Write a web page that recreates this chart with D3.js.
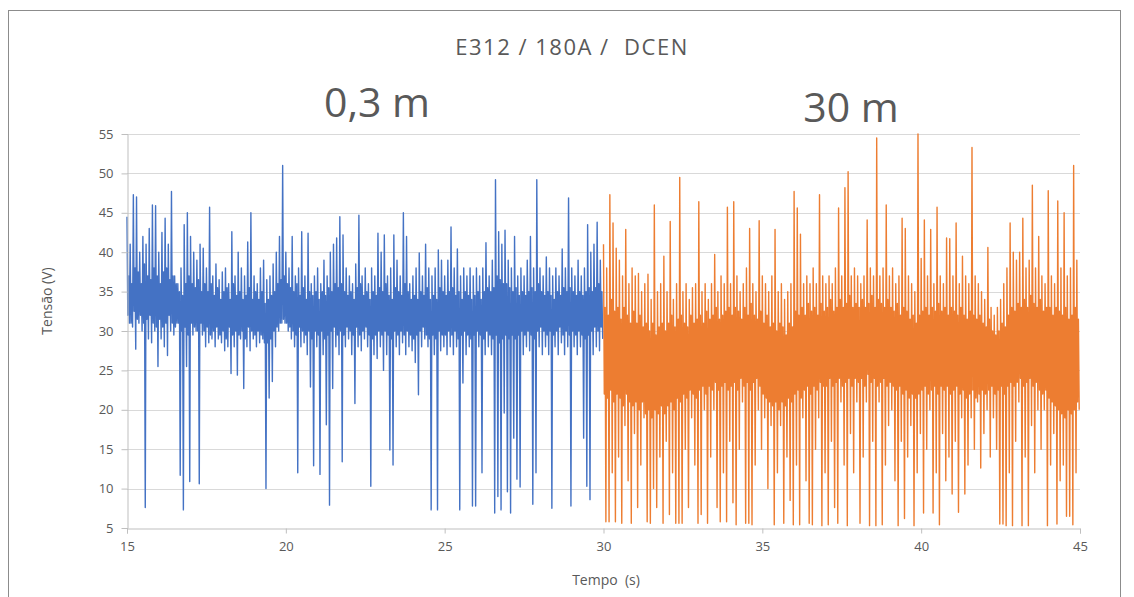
<!DOCTYPE html>
<html>
<head>
<meta charset="utf-8">
<script src="https://cdn.jsdelivr.net/npm/d3@7"></script>
<style>
  body { margin: 0; background: #fff; }
  text { font-family: "Open Sans", "Noto Sans", sans-serif; fill: #595959; }
</style>
</head>
<body>
<svg id="chart"></svg>
<script>
// Tension signal, one entry per 0.1 s bin:
// extreme high / low of the bin and the typical high / low of its dense core
const blueStart = 15;
const orangeStart = 30;
const binSize = 0.1;

const blueHigh = [
  44.5, 41, 47.3, 47, 40, 42, 41, 43, 46, 45.9,
  40, 42.5, 44.3, 41, 47.7, 37, 36, 38, 43.5, 45,
  42, 40, 39, 41, 40.5, 38, 45.7, 37, 38.5, 36.5,
  37.5, 38, 36, 42.6, 37, 40, 38, 37, 41.3, 45,
  37, 36, 38, 39, 36.5, 37, 38.5, 40, 42, 51,
  40, 38, 42, 37, 38, 42.6, 37, 42.4, 36, 37,
  38, 36, 39, 37, 40, 41, 41.8, 44.5, 42.2, 38,
  37, 36, 38.5, 44.7, 37, 38, 36, 38, 37, 42.4,
  40, 42.2, 37, 38, 42.2, 39, 37, 45, 42, 36,
  37, 38, 39.9, 37, 41, 38, 37, 38, 40.3, 39,
  37, 39, 43.2, 38, 40.4, 37, 38, 37, 38, 37,
  38, 37, 38, 41.2, 37, 39, 49.2, 42.6, 41, 42.8,
  39, 38, 42, 37, 38, 37, 39, 42, 38, 49.2,
  38, 37, 39.4, 38, 37, 38, 37, 40.4, 38, 46.9,
  38, 37, 39, 37, 38, 43.5, 40, 41, 43.8, 39
];
const blueLow = [
  31, 30.5, 27.7, 31, 30, 7.6, 29, 28.5, 30, 25.5,
  29, 28, 26.9, 30, 29.5, 31, 11.7, 7.3, 25.5, 10.9,
  29.5, 30, 10.6, 29.5, 28, 28.5, 29, 28, 29, 28.5,
  27.5, 28, 24.6, 28, 24.4, 29, 22.7, 28, 27.5, 29,
  28, 28.5, 29, 10, 21.5, 23.6, 28, 30, 31, 31,
  30, 29, 28, 12, 28, 28.5, 27, 22.9, 12.9, 28,
  11.8, 27, 18.1, 7.9, 22.7, 28, 27, 13.4, 28, 29,
  27, 20.8, 28, 27.5, 29, 28, 10.3, 27, 26.5, 28,
  25, 27, 14.9, 13, 28, 27, 28.5, 27, 28, 27.5,
  26, 21.9, 28, 29, 28, 7.3, 27, 7.3, 27.5, 28,
  27, 28, 27, 28, 7.3, 23.4, 27, 28, 7.8, 7.8,
  28, 12, 27, 28, 27, 6.9, 9, 7.3, 19.6, 9.6,
  6.9, 16.4, 11.2, 10.2, 27, 28, 27.5, 8, 12, 28,
  27, 28, 27, 7.5, 28, 27, 28.5, 27, 28, 7.8,
  28, 27, 28, 16.4, 10.3, 8.6, 27, 28, 27.5, 29
];
const blueCoreHigh = [
  37, 36, 38, 37.5, 36, 38.5, 37, 36.5, 38, 37,
  36, 37.5, 38, 36.5, 37, 36, 35, 34.5, 36, 37,
  36, 35.5, 36.5, 35, 36, 35, 36, 34.5, 35.5, 34,
  35, 35.5, 34, 36, 34.5, 35, 34, 34.5, 35.5, 34,
  35, 34, 35, 33.5, 34, 34.5, 35, 36, 36.5, 37,
  36, 35.5, 35, 36, 34.5, 35.5, 34, 35, 34.5, 35,
  34, 35, 34.5, 35.5, 35, 36, 35.5, 36, 35, 34.5,
  35, 34, 35.5, 36, 34.5, 35, 34, 35, 34.5, 35.5,
  35, 36, 34.5, 34, 35.5, 35, 34.5, 36, 35, 34,
  34.5, 34, 35, 34.5, 35.5, 34, 34.5, 34, 35.5, 35,
  34.5, 35, 35.5, 34.5, 35, 34, 35, 34.5, 34, 34.5,
  35, 34, 35, 35.5, 35, 35.5, 37, 36.5, 36, 36,
  35.5, 35, 35.5, 34.5, 35, 34.5, 35, 35.5, 35, 36,
  35, 34.5, 35, 34.5, 34, 35, 34.5, 35.5, 35, 35.5,
  35, 34.5, 35, 34.5, 35, 35.5, 35, 35.5, 36, 35
];
const blueCoreLow = [
  32, 31, 32.5, 31.5, 32, 31, 31.5, 32, 31, 30.5,
  31.5, 30.5, 31, 32, 31, 30.5, 31, 30, 30.5, 29.5,
  31, 30.5, 30, 31, 30, 30.5, 29.5, 30, 30.5, 29.5,
  30, 29, 30.5, 29.5, 30, 29.5, 30, 29, 30.5, 30,
  29.5, 30, 29.5, 28.5, 28.5, 29, 30, 30.5, 31, 31.5,
  31, 30.5, 30, 29.5, 30.5, 30, 29.5, 30, 29, 30,
  29.5, 30, 29, 29.5, 30, 30.5, 29.5, 30, 29.5, 30.5,
  30, 29.5, 30.5, 29.5, 30, 30.5, 29.5, 29, 29.5, 30,
  29.5, 30, 29.5, 29, 30, 29.5, 30, 29.5, 30, 29.5,
  29, 29.5, 30, 30.5, 29.5, 29, 29.5, 29, 30, 29.5,
  29.5, 30, 29.5, 30, 29, 29.5, 30, 29.5, 29, 29.5,
  30, 29.5, 29, 30, 29.5, 29, 29.5, 28.5, 29, 29.5,
  29, 29.5, 29, 29.5, 30, 29.5, 30, 29.5, 29, 30,
  30.5, 30, 29.5, 30, 29.5, 30, 30.5, 29.5, 30, 29.5,
  30, 29.5, 30, 29.5, 29, 29.5, 30, 30.5, 30, 30.5
];

const orangeHigh = [
  41, 38, 47.3, 43.7, 40.5, 39, 37, 42.9, 36, 38,
  37, 37.3, 35, 36, 37.2, 34, 46, 35, 36, 39.5,
  35, 43.9, 34, 36, 49.5, 35, 36, 34, 35.5, 36,
  46.4, 35, 36, 34, 36, 39.7, 35, 37, 36, 45.7,
  36, 46.4, 37, 35, 36, 38, 43, 36, 35, 44,
  37, 36, 35, 37, 42.9, 35, 36, 34, 35, 36,
  47.7, 45.6, 42.3, 36, 37, 36, 38, 36, 47.3, 37,
  36, 37, 36, 38, 45.6, 37, 48.2, 50.2, 37, 38,
  37, 36, 37, 44.1, 38, 37, 54.5, 37, 38, 46,
  37, 38, 36, 37, 44.3, 43, 37, 36, 35, 55,
  39.2, 44.1, 37, 42.9, 36, 45.7, 37, 36, 41.8, 41.7,
  37, 43.7, 36, 39.5, 37, 36, 53.3, 37, 36, 35,
  34, 40.6, 33, 32, 33, 34, 36, 38, 43.7, 40,
  39, 40, 44.3, 38, 39, 48.5, 38, 42, 37, 36,
  47.8, 37, 36, 46.5, 38, 45, 37, 38, 51, 39
];
const orangeLow = [
  5.8, 5.8, 12, 5.8, 14, 5.6, 18, 11, 5.6, 17,
  7.6, 13, 19, 5.8, 5.6, 10, 7.6, 14, 5.6, 16,
  6.7, 12, 5.6, 5.6, 5.6, 15, 7.6, 19, 13, 5.6,
  6.7, 20, 5.6, 14, 20, 7.6, 5.8, 12, 5.8, 16,
  8.2, 5.4, 15, 21, 5.6, 5.6, 5.4, 13, 20, 15,
  19, 10, 18, 5.4, 12, 18, 5.6, 14, 8.5, 5.4,
  13, 5.4, 19, 11, 5.6, 5.4, 15, 19, 5.3, 12,
  5.4, 16, 7.6, 5.6, 21, 13, 5.3, 17, 12, 21,
  5.6, 14, 21, 5.3, 16, 5.3, 21, 5.4, 13, 18,
  20, 11, 5.3, 16, 6.2, 14, 18, 5.3, 12, 17,
  6.9, 15, 20, 6.9, 12, 5.4, 17, 11, 14, 9.3,
  16, 7, 19, 9.3, 13, 19, 15, 21, 12.6, 17,
  20, 14, 19, 15, 5.5, 5.5, 5.3, 12, 5.3, 16,
  21, 5.3, 14, 5.3, 18, 12, 20, 15, 20, 5.3,
  13, 17, 5.5, 11, 13, 6.5, 6.5, 5.4, 12, 20
];
const orangeCoreHigh = [
  33, 32, 34, 32.5, 33, 31.5, 33, 32, 31, 32.5,
  31, 32, 30.5, 31, 30, 31, 29.5, 30.5, 31, 30,
  31, 32, 30.5, 31.5, 32, 31, 30.5, 32, 31, 31.5,
  32, 31, 32.5, 31.5, 32, 33, 31.5, 32, 32.5, 33,
  32, 33, 32.5, 31.5, 33, 32, 33.5, 32, 31.5, 32.5,
  31, 32, 30.5, 31, 30, 31, 30.5, 29.5, 31, 30.5,
  32.5, 32, 33, 32, 33.5, 32.5, 33, 32, 33.5, 32.5,
  33, 34, 32.5, 33, 34, 33, 33.5, 34.5, 33, 33.5,
  33, 34, 33, 33.5, 34.5, 33, 34, 33.5, 33, 34,
  33, 32.5, 33.5, 32, 33, 32.5, 31.5, 32, 31, 32,
  32.5, 33, 32, 33, 32.5, 33.5, 32.5, 33, 32, 33,
  32.5, 32, 33, 32, 31.5, 32.5, 32, 31.5, 32, 31,
  30.5, 31.5, 30, 29.5, 30, 31, 30.5, 32, 33, 32.5,
  33.5, 33, 34, 33, 34.5, 33.5, 33, 34, 32.5, 33,
  33, 32, 33, 32.5, 32, 33, 31.5, 32, 33, 31.5
];
const orangeCoreLow = [
  22, 21.5, 22.5, 21, 22, 21.5, 20.5, 22, 21, 20.5,
  21, 20, 21, 19.5, 20, 19, 20, 19.5, 20.5, 19.5,
  20.5, 21, 20, 21.5, 21, 22, 21.5, 22.5, 22, 21.5,
  22.5, 23, 22, 23, 22.5, 23.5, 22.5, 23, 23.5, 22.5,
  23, 23.5, 22.5, 24, 23, 23.5, 22.5, 23.5, 24, 23,
  22, 21.5, 21, 20.5, 21, 20, 21, 20.5, 21.5, 21,
  22, 22.5, 21.5, 22.5, 23, 22, 23, 22.5, 23.5, 23,
  23, 24, 23, 23.5, 24, 23, 23.5, 24, 23, 24,
  23.5, 24, 23, 24.5, 23.5, 24, 23, 23.5, 24, 23,
  23.5, 23, 22.5, 23, 22, 22.5, 21.5, 22, 21.5, 22,
  22.5, 23, 22, 22.5, 23, 22, 23, 22.5, 23, 22,
  22.5, 23, 22, 22.5, 21.5, 22, 22.5, 21.5, 22, 22.5,
  22, 22.5, 23, 22, 22.5, 23, 22, 23, 23.5, 23,
  23.5, 24, 23, 23.5, 24, 23, 23.5, 22.5, 22, 22.5,
  21.5, 21, 20.5, 20, 19.5, 19, 20, 19.5, 20, 21
];

const xTicks = [15, 20, 25, 30, 35, 40, 45];
const yTicks = [5, 10, 15, 20, 25, 30, 35, 40, 45, 50, 55];

const W = 1134, H = 597;
const plot = { left: 127, right: 1080, top: 134, bottom: 528 };

const svg = d3.select("#chart").attr("width", W).attr("height", H);

// chart frame
svg.append("rect")
  .attr("x", 8.5).attr("y", 10.5)
  .attr("width", 1112).attr("height", 600)
  .attr("fill", "#fff").attr("stroke", "#8c8c8c").attr("stroke-width", 1);

const x = d3.scaleLinear().domain([15, 45]).range([plot.left, plot.right]);
const y = d3.scaleLinear().domain([5, 55]).range([plot.bottom, plot.top]);

// gridlines
svg.append("g")
  .selectAll("line")
  .data(yTicks.slice(1))
  .join("line")
  .attr("x1", plot.left).attr("x2", plot.right)
  .attr("y1", (d) => Math.round(y(d)) + 0.5)
  .attr("y2", (d) => Math.round(y(d)) + 0.5)
  .attr("stroke", "#d9d9d9").attr("stroke-width", 1);

// each bin: extreme high, core low, core high, extreme low
function toPoints(s) {
  const pts = [];
  const q = binSize / 4;
  s.high.forEach((h, i) => {
    const t = s.start + i * binSize;
    pts.push([t, h]);
    pts.push([t + q, s.coreLow[i]]);
    pts.push([t + 2 * q, s.coreHigh[i]]);
    pts.push([t + 3 * q, s.low[i]]);
  });
  return pts;
}

const line = d3.line()
  .x((d) => x(d[0]))
  .y((d) => y(d[1]));

const series = [
  { color: "#4472c4", start: blueStart, high: blueHigh, low: blueLow, coreHigh: blueCoreHigh, coreLow: blueCoreLow },
  { color: "#ed7d31", start: orangeStart, high: orangeHigh, low: orangeLow, coreHigh: orangeCoreHigh, coreLow: orangeCoreLow }
];

series.forEach((s) => {
  svg.append("path")
    .datum(toPoints(s))
    .attr("fill", "none")
    .attr("stroke", s.color)
    .attr("stroke-width", 1.4)
    .attr("stroke-linejoin", "round")
    .attr("d", line);
});

// axes
const xAxis = svg.append("g")
  .attr("transform", `translate(0, ${Math.round(y(5)) + 0.5})`)
  .call(d3.axisBottom(x).tickValues(xTicks).tickSize(5).tickPadding(8));

const yAxis = svg.append("g")
  .attr("transform", `translate(${plot.left + 0.5}, 0)`)
  .call(d3.axisLeft(y).tickValues(yTicks).tickSize(5).tickPadding(9));

[xAxis, yAxis].forEach((g) => {
  g.select(".domain").attr("stroke", "#bfbfbf");
  g.selectAll(".tick line").attr("stroke", "#bfbfbf");
  g.selectAll(".tick text")
    .style("font-family", '"Open Sans", "Noto Sans", sans-serif')
    .style("font-size", "13px")
    .attr("fill", "#595959");
});
yAxis.selectAll(".tick line").attr("x2", -6);

// titles
svg.append("text")
  .attr("x", 572).attr("y", 55)
  .attr("text-anchor", "middle")
  .style("font-size", "22px")
  .style("letter-spacing", "1.5px")
  .style("white-space", "pre")
  .text("E312 / 180A /  DCEN");

svg.append("text")
  .attr("x", 377).attr("y", 117)
  .attr("text-anchor", "middle")
  .style("font-size", "41px")
  .attr("fill", "#404040")
  .text("0,3 m");

svg.append("text")
  .attr("x", 851).attr("y", 122)
  .attr("text-anchor", "middle")
  .style("font-size", "41px")
  .attr("fill", "#404040")
  .text("30 m");

svg.append("text")
  .attr("x", 606).attr("y", 585)
  .attr("text-anchor", "middle")
  .style("font-size", "14px")
  .style("white-space", "pre")
  .text("Tempo  (s)");

svg.append("text")
  .attr("transform", "translate(52, 301) rotate(-90)")
  .attr("text-anchor", "middle")
  .style("font-size", "14px")
  .text("Tensão (V)");
</script>
</body>
</html>
